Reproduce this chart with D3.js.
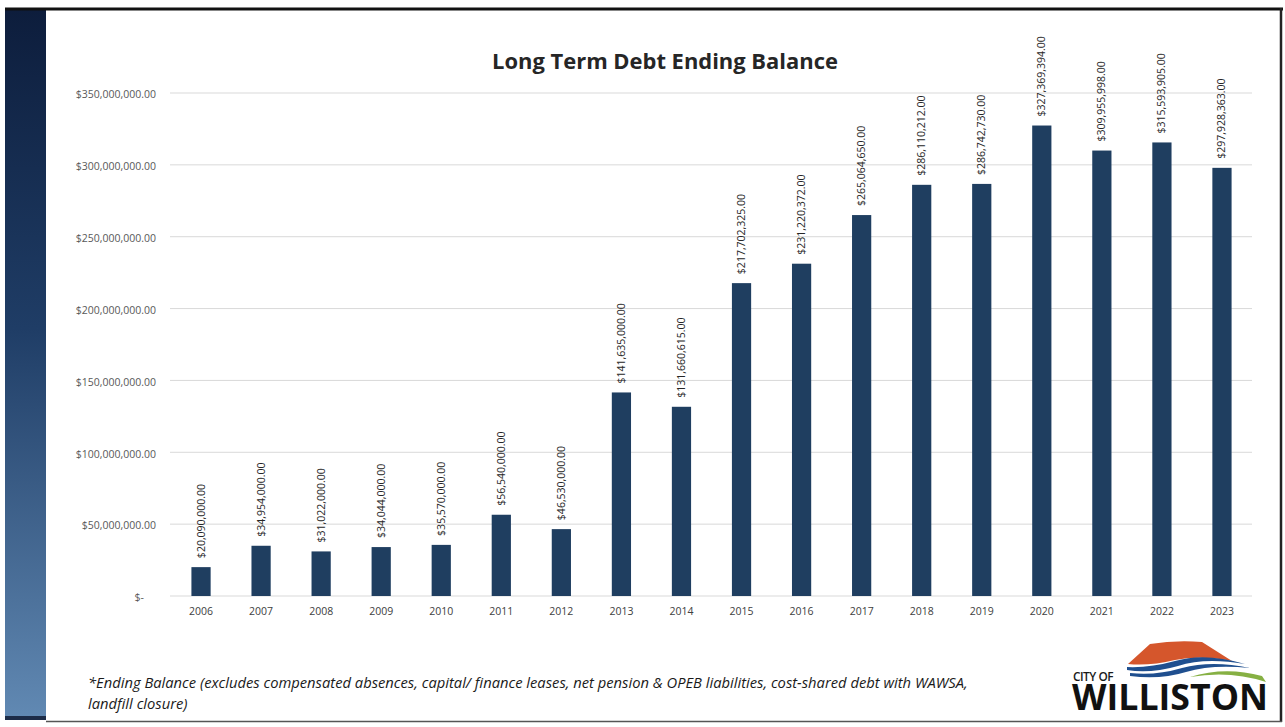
<!DOCTYPE html>
<html>
<head>
<meta charset="utf-8">
<script src="https://cdn.jsdelivr.net/npm/d3@7"></script>
<style>
  html, body { margin: 0; padding: 0; background: #ffffff; }
  svg { display: block; }
</style>
</head>
<body>
<svg id="chart" width="1285" height="727"></svg>
<script>
// ---------- data ----------
const years = ["2006","2007","2008","2009","2010","2011","2012","2013","2014","2015","2016","2017","2018","2019","2020","2021","2022","2023"];
const balances = [20090000, 34954000, 31022000, 34044000, 35570000, 56540000, 46530000, 141635000, 131660615, 217702325, 231220372, 265064650, 286110212, 286742730, 327369394, 309955998, 315593905, 297928363];
const yTicks = [0, 50000000, 100000000, 150000000, 200000000, 250000000, 300000000, 350000000];
const titleText = "Long Term Debt Ending Balance";
const footnoteLines = [
  "*Ending Balance (excludes compensated absences, capital/ finance leases, net pension & OPEB liabilities, cost-shared debt with WAWSA,",
  "landfill closure)"
];

// ---------- setup ----------
const svg = d3.select("#chart");
const W = 1285, H = 727;
const font = "'Open Sans', 'DejaVu Sans', sans-serif";

// frame & left strip
const defs = svg.append("defs");
const grad = defs.append("linearGradient").attr("id", "strip").attr("x1", 0).attr("y1", 0).attr("x2", 0).attr("y2", 1);
grad.append("stop").attr("offset", "0%").attr("stop-color", "#0d1d3c");
grad.append("stop").attr("offset", "45%").attr("stop-color", "#1f3d66");
grad.append("stop").attr("offset", "100%").attr("stop-color", "#6189b3");
svg.append("rect").attr("x", 5).attr("y", 9).attr("width", 41).attr("height", 709).attr("fill", "url(#strip)");
svg.append("rect").attr("x", 5).attr("y", 716).attr("width", 41).attr("height", 4).attr("fill", "#1c2c48");
svg.append("line").attr("x1", 5).attr("x2", 1283).attr("y1", 9).attr("y2", 9).attr("stroke", "#111").attr("stroke-width", 3);
svg.append("line").attr("x1", 1281).attr("x2", 1281).attr("y1", 8).attr("y2", 722).attr("stroke", "#222").attr("stroke-width", 2.5);
svg.append("line").attr("x1", 46).attr("x2", 1282).attr("y1", 721.5).attr("y2", 721.5).attr("stroke", "#555").attr("stroke-width", 1.5);

// ---------- scales ----------
const x = d3.scaleBand().domain(years).range([171, 1252]).paddingInner(0.68).paddingOuter(0.34);
const y = d3.scaleLinear().domain([0, 350000000]).range([596, 93]);

// gridlines
svg.append("g").selectAll("line").data(yTicks).join("line")
  .attr("x1", 170).attr("x2", 1252)
  .attr("y1", d => y(d)).attr("y2", d => y(d))
  .attr("stroke", "#d9d9d9").attr("stroke-width", 1);

// y axis labels
const yFmt = d => d === 0 ? "$-" : "$" + d3.format(",.2f")(d);
const yAxis = d3.axisLeft(y).tickValues(yTicks).tickFormat(yFmt).tickSize(0).tickPadding(0);
const yg = svg.append("g").attr("transform", "translate(156,0)").call(yAxis);
yg.select(".domain").remove();
yg.selectAll("text").attr("font-family", font).attr("font-size", 10.5).attr("fill", "#595959").attr("dy", "0.45em");
yg.selectAll(".tick").filter(d => d === 0).select("text").attr("dx", -12);

// x axis labels
const xAxis = d3.axisBottom(x).tickSize(0).tickPadding(0);
const xg = svg.append("g").attr("transform", "translate(0,608)").call(xAxis);
xg.select(".domain").remove();
xg.selectAll("text").attr("font-family", font).attr("font-size", 10.5).attr("fill", "#404040").attr("dy", "0.71em");

// bars
svg.append("g").selectAll("rect").data(years).join("rect")
  .attr("x", d => x(d))
  .attr("width", x.bandwidth())
  .attr("y", (d, i) => y(balances[i]))
  .attr("height", (d, i) => y(0) - y(balances[i]))
  .attr("fill", "#1f3e60");

// value labels (rotated)
svg.append("g").selectAll("text").data(years).join("text")
  .attr("transform", (d, i) => `translate(${x(d) + x.bandwidth() / 2 + 3.5},${y(balances[i]) - 9}) rotate(-90)`)
  .attr("font-family", font).attr("font-size", 10.5).attr("fill", "#262626")
  .attr("text-anchor", "start")
  .text((d, i) => "$" + d3.format(",.2f")(balances[i]));

// title
const title = svg.append("text")
  .attr("x", 665).attr("y", 69)
  .attr("text-anchor", "middle")
  .attr("font-family", font).attr("font-weight", 700).attr("font-size", 20)
  .attr("fill", "#262626")
  .text(titleText);
(function fit(sel, target) {
  const w = sel.node().getComputedTextLength();
  const fs = +sel.attr("font-size");
  sel.attr("font-size", fs * target / w);
})(title, 346);

// footnote
const fn = svg.append("g");
footnoteLines.forEach((t, i) => {
  fn.append("text")
    .attr("x", 88).attr("y", 688 + i * 21)
    .attr("font-family", font).attr("font-style", "italic").attr("font-size", 13)
    .attr("fill", "#1a1a1a")
    .text(t);
});
{
  const first = fn.select("text").node();
  const w = first.getComputedTextLength();
  const fs = 13 * 880 / w;
  fn.selectAll("text").attr("font-size", fs);
}

// logo
const logo = svg.append("g");
logo.append("path")
  .attr("d", "M1128,664 L1150,644 Q1175,640 1202,642 L1232,661 Q1200,655 1175,660 Q1150,666 1128,664 Z")
  .attr("fill", "#d5562c");
logo.append("path")
  .attr("d", "M1127,667 Q1150,668 1175,661 Q1205,652 1245,664 Q1205,657 1178,666 Q1150,674 1127,670 Z")
  .attr("fill", "#1f4f8f");
logo.append("path")
  .attr("d", "M1130,673 Q1155,676 1182,668 Q1212,660 1250,668 Q1212,664 1186,672 Q1160,680 1130,676 Z")
  .attr("fill", "#1f4f8f");
logo.append("path")
  .attr("d", "M1190,677 Q1225,666 1262,676 L1266,682 Q1230,670 1190,677 Z")
  .attr("fill", "#86b043");
const cityOf = logo.append("text")
  .attr("x", 1073).attr("y", 681)
  .attr("font-family", font).attr("font-weight", 600).attr("font-size", 12)
  .attr("letter-spacing", -0.5)
  .attr("fill", "#1a1a1a").text("CITY OF");
const will = logo.append("text")
  .attr("x", 1072).attr("y", 710)
  .attr("font-family", font).attr("font-weight", 700).attr("font-size", 35)
  .attr("fill", "#111").text("WILLISTON");
{
  const w = will.node().getComputedTextLength();
  will.attr("textLength", 196).attr("lengthAdjust", "spacingAndGlyphs");
  const w2 = cityOf.node().getComputedTextLength();
  cityOf.attr("textLength", 40).attr("lengthAdjust", "spacingAndGlyphs");
}
</script>
</body>
</html>
